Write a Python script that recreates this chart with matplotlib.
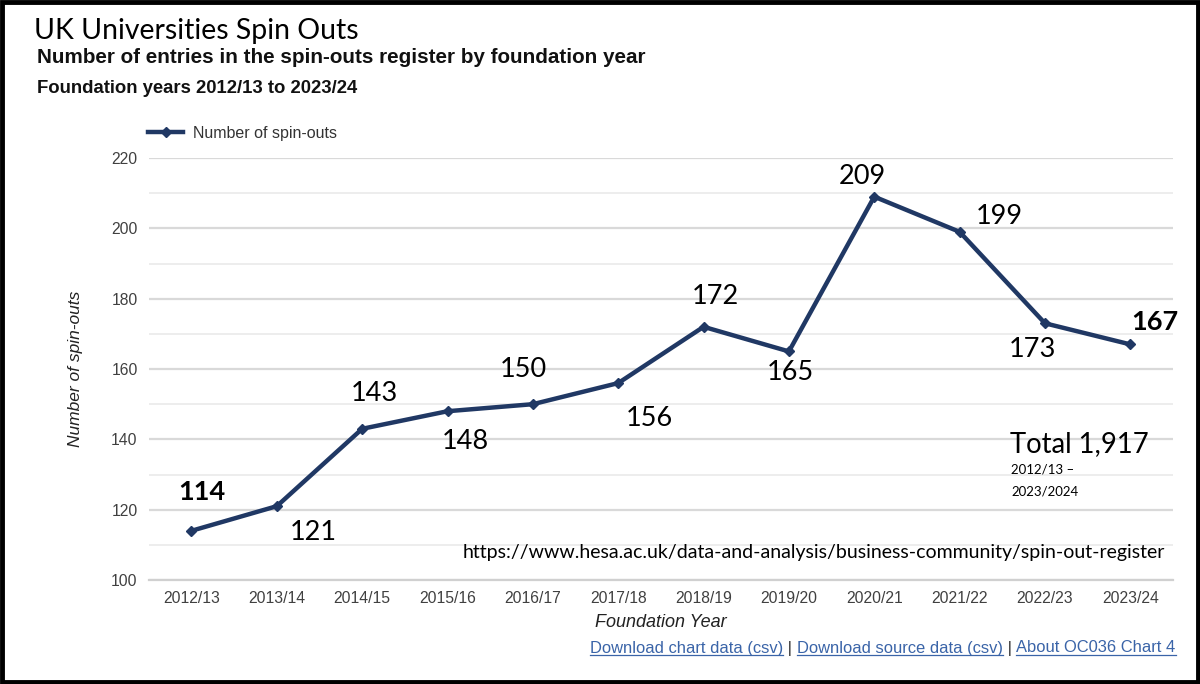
import numpy as np
import matplotlib.pyplot as plt
from matplotlib.lines import Line2D
from matplotlib.patches import Rectangle
from matplotlib.ticker import MultipleLocator

years = ["2012/13", "2013/14", "2014/15", "2015/16", "2016/17", "2017/18",
         "2018/19", "2019/20", "2020/21", "2021/22", "2022/23", "2023/24"]
spinouts = [114, 121, 143, 148, 150, 156, 172, 165, 209, 199, 173, 167]
# label offsets in pixels from each point (dx, dy)
label_off = [(10, 39), (36, -26), (12, 35), (18, -30), (-10, 35), (31, -35),
             (12, 30), (1, -21), (-12, 20), (40, 15), (-12, -26), (25, 22)]
bold_labels = [0, 11]

navy = "#203864"
calibri = ["Lato", "DejaVu Sans"]
arial = ["Liberation Sans", "DejaVu Sans"]

fig = plt.figure(figsize=(12, 6.84), dpi=100)
ax = fig.add_axes([0.124, 0.152, 0.8535, 0.617])

x = np.arange(len(years))
ax.plot(x, spinouts, color=navy, lw=3.2, marker="D", markersize=5.5,
        label="Number of spin-outs", zorder=3)

for i, v in enumerate(spinouts):
    dx, dy = label_off[i]
    ax.annotate(str(v), (x[i], v), xytext=(dx, dy), textcoords="offset pixels",
                ha="center", va="center", fontsize=19.5, family=calibri,
                fontweight="bold" if i in bold_labels else "normal", color="black")

ax.set_xlim(-0.5, len(years) - 0.5)
ax.set_ylim(100, 220)
ax.set_xticks(x)
ax.set_xticklabels(years, family=arial, fontsize=11.3, color="#404040")
ax.yaxis.set_major_locator(MultipleLocator(20))
ax.yaxis.set_minor_locator(MultipleLocator(10))
for lab in ax.get_yticklabels():
    lab.set_family(arial)
    lab.set_fontsize(11.3)
    lab.set_color("#404040")
ax.tick_params(axis="both", length=0, pad=8)
ax.tick_params(axis="y", which="minor", length=0)
ax.grid(axis="y", which="major", color="#d9d9d9", lw=1.6)
ax.grid(axis="y", which="minor", color="#ececec", lw=1.3)
ax.set_axisbelow(True)
for s in ["top", "right", "left"]:
    ax.spines[s].set_visible(False)
ax.spines["bottom"].set_color("#d0d0d0")
ax.spines["bottom"].set_linewidth(1.6)

ax.set_xlabel("Foundation Year", family=arial, fontsize=13, style="italic",
              color="#222222", labelpad=6)
ax.set_ylabel("Number of spin-outs", family=arial, fontsize=12.5, style="italic",
              color="#222222", labelpad=20)

ax.legend(loc="lower left", bbox_to_anchor=(0.118, 0.785), bbox_transform=fig.transFigure,
          frameon=False, prop={"family": arial, "size": 11.5}, handlelength=2.2,
          handletextpad=0.6, borderaxespad=0, labelcolor="#333333")

fig.text(0.028, 0.955, "UK Universities Spin Outs", family=calibri, fontsize=20.4,
         va="center", ha="left")
fig.text(0.031, 0.916, "Number of entries in the spin-outs register by foundation year",
         family=arial, fontsize=14.9, fontweight="bold", va="center", color="#111111")
fig.text(0.031, 0.871, "Foundation years 2012/13 to 2023/24", family=arial,
         fontsize=13.3, fontweight="bold", va="center", color="#111111")

fig.text(0.8417, 0.351, "Total 1,917", family=calibri, fontsize=19.8, va="center")
fig.text(0.8425, 0.314, "2012/13 \u2013", family=calibri, fontsize=9.5, va="center")
fig.text(0.8425, 0.282, "2023/2024", family=calibri, fontsize=9.5, va="center")
fig.text(0.971, 0.192, "https://www.hesa.ac.uk/data-and-analysis/business-community/spin-out-register",
         family=calibri, fontsize=14, ha="right", va="center")

# links along the bottom
link_col = "#3a64a8"
parts = [("Download chart data (csv)", True), (" | ", False),
         ("Download source data (csv)", True), (" | ", False),
         ("About OC036 Chart 4", True)]
fig.canvas.draw()
r = fig.canvas.get_renderer()
xpos = 590
ypix = 684 - 648
for s, link in parts:
    t = fig.text(xpos / 1200, ypix / 684, s, family=arial, fontsize=11.9,
                 color=link_col if link else "#333333", va="center", ha="left")
    bb = t.get_window_extent(renderer=r)
    if link:
        fig.add_artist(Line2D([bb.x0 / 1200, bb.x1 / 1200], [(bb.y0 + 1) / 684] * 2,
                              transform=fig.transFigure, color=link_col, lw=0.9))
    xpos = bb.x1

fig.add_artist(Rectangle((0.002, 0.003), 0.996, 0.994, transform=fig.transFigure,
                         fill=False, edgecolor="black", lw=3.5))

fig.savefig("out.png", dpi=100)
